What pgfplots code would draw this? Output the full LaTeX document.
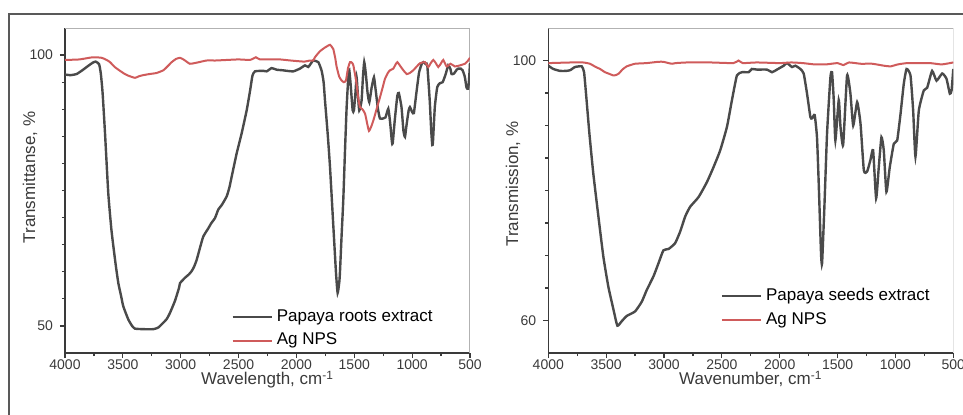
\documentclass[border=0pt]{standalone}
\usepackage{pgfplots}
\pgfplotsset{compat=1.18}
\usepackage{fontspec}
\setmainfont{Liberation Sans}
\definecolor{spblack}{HTML}{4A4A4A}
\definecolor{spred}{HTML}{CF5B5B}
\definecolor{axgray}{HTML}{3A3A3A}

\pgfplotsset{ftir/.style={
 scale only axis, width=202.5pt, height=162.5pt,
 xmin=500, xmax=4000, x dir=reverse,
 axis x line*=bottom, axis y line*=left,
 tick align=outside,
 xtick={500,1000,...,4000}, minor x tick num=1,
 major tick length=2.5pt, minor tick length=1.6pt,
 every tick/.style={axgray, line width=0.6pt},
 axis line style={axgray, line width=0.7pt, -},
 ticklabel style={font=\fontsize{7}{8}\selectfont, text=axgray},
 xticklabel style={yshift=2.5pt},
 /pgf/number format/assume math mode=true,
 /pgf/number format/1000 sep={},
 label style={font=\fontsize{8.5}{10}\selectfont, text=axgray},
 xlabel style={at={(axis description cs:0.5,-0.098)}, anchor=base},
 legend style={draw=none, fill=none, font=\fontsize{8.5}{9}\selectfont, text=black, cells={anchor=west}, row sep=0.5pt, anchor=north west},
 legend image code/.code={\draw[##1] (0pt,0pt) -- (19.5pt,0pt);},
}}

\pgfplotstableread{
w v
4000 96.4
3950 96.3
3900 96.5
3850 97.2
3800 98.0
3760 98.6
3735 98.8
3705 98.3
3690 96.5
3675 93.0
3654 85.5
3626 74.5
3600 68.0
3582 64.7
3560 61.0
3539 57.9
3515 55.5
3496 53.6
3453 51.2
3420 50.0
3395 49.5
3323 49.4
3237 49.4
3194 49.7
3150 50.6
3120 51.3
3093 52.4
3050 54.6
3015 57.0
3006 57.9
2985 58.4
2963 58.9
2930 59.5
2906 60.1
2885 60.9
2862 62.2
2835 64.3
2805 66.5
2762 68.0
2735 69.0
2704 69.9
2675 71.5
2646 72.3
2603 73.9
2580 75.5
2560 77.5
2517 81.8
2474 85.5
2430 89.8
2400 93.5
2380 96.2
2358 97.0
2286 97.1
2257 97.0
2214 97.6
2171 97.3
2120 97.2
2085 97.1
2027 97.0
1970 97.5
1926 98.1
1898 97.8
1870 98.6
1854 99.0
1811 98.7
1782 97.1
1765 95.0
1753 91.6
1730 85.5
1710 79.4
1681 68.4
1658 59.8
1644 56.1
1630 58.0
1624 59.8
1610 66.5
1595 73.3
1580 82.5
1566 90.4
1550 96.5
1543 97.2
1532 94.7
1514 89.8
1503 89.8
1490 93.0
1480 95.9
1470 93.0
1457 89.8
1437 91.6
1425 96.0
1414 98.7
1400 96.5
1385 93.0
1370 91.3
1350 94.0
1330 95.9
1315 93.5
1295 90.0
1278 88.3
1250 88.3
1230 88.5
1206 90.1
1190 87.5
1175 84.0
1168 83.7
1150 88.0
1128 92.5
1115 93.0
1092 90.4
1075 86.0
1062 84.9
1049 87.0
1030 89.8
1019 90.4
1000 89.5
985 89.3
964 92.9
940 96.8
915 98.5
903 98.7
880 98.3
869 98.1
848 91.6
835 86.0
826 83.4
820 84.0
804 90.4
783 94.1
760 94.8
736 95.0
710 96.5
688 98.1
670 97.5
659 96.5
638 96.6
615 97.3
601 97.5
580 97.5
564 97.2
545 96.0
530 94.0
516 93.8
508 95.5
500 98.5
}\roots

\pgfplotstableread{
w v
4000 99.1
3875 99.2
3760 99.6
3683 99.5
3640 99.1
3611 98.7
3570 97.8
3525 97.1
3490 96.6
3453 96.2
3395 95.8
3360 96.1
3323 96.3
3270 96.5
3208 96.7
3150 97.2
3110 98.0
3078 98.7
3040 99.3
3006 99.5
2985 99.3
2963 99.0
2920 98.4
2862 98.6
2776 99.0
2700 99.0
2603 99.1
2500 99.2
2402 99.1
2370 99.4
2350 99.6
2315 99.2
2200 99.2
2142 99.2
2050 99.0
1998 98.9
1930 98.8
1883 99.0
1854 99.0
1840 99.6
1797 100.7
1753 101.4
1710 101.9
1690 101.4
1681 101.1
1665 99.5
1652 97.8
1630 96.0
1609 95.3
1590 95.0
1572 95.3
1555 97.5
1537 98.7
1520 98.6
1508 98.1
1490 96.0
1479 94.4
1465 92.0
1451 90.4
1430 90.0
1407 89.2
1390 87.5
1373 86.0
1350 87.0
1330 88.3
1305 90.2
1278 92.2
1255 94.0
1235 95.6
1210 96.7
1191 97.2
1163 97.5
1145 98.2
1128 98.7
1100 97.9
1076 97.2
1047 96.5
1020 96.7
990 97.2
960 97.9
932 98.5
889 98.7
860 97.8
840 98.5
817 99.1
795 98.5
774 97.8
750 98.5
731 99.1
702 97.9
668 98.4
630 97.9
587 98.1
544 98.4
520 98.9
500 99.5
}\agleft

\pgfplotstableread{
w v
4000 99.2
3957 98.7
3899 98.4
3850 98.4
3812 98.5
3769 99.0
3711 99.1
3691 98.2
3674 94.9
3645 88.8
3611 82.6
3567 76.0
3524 69.8
3481 65.2
3437 61.7
3403 59.2
3365 59.9
3322 60.7
3250 61.4
3192 62.9
3149 64.7
3091 66.8
3048 68.8
3005 70.8
2961 71.0
2904 71.9
2860 73.7
2817 76.0
2774 77.5
2701 79.0
2629 81.3
2572 83.6
2514 86.2
2456 89.8
2413 93.9
2370 97.7
2326 98.2
2269 98.2
2240 98.7
2197 98.6
2110 98.6
2067 98.2
2024 98.6
1966 99.2
1937 99.6
1894 99.0
1865 99.2
1822 98.7
1793 98.0
1764 94.9
1735 91.3
1721 91.1
1698 91.6
1678 88.2
1663 81.1
1643 70.3
1634 68.8
1614 77.5
1591 88.8
1562 97.4
1548 98.2
1533 93.9
1519 87.7
1490 93.9
1475 89.8
1452 87.0
1418 97.7
1389 94.9
1365 90.0
1331 93.6
1302 90.3
1273 83.1
1245 82.9
1216 84.7
1193 86.2
1167 78.8
1144 83.6
1121 88.2
1101 86.2
1078 79.8
1049 83.6
1014 87.2
985 87.7
956 91.8
928 96.4
904 98.7
870 97.7
847 92.3
827 85.2
798 92.3
755 95.4
726 95.8
683 98.4
645 96.9
596 98.0
559 97.2
530 94.9
515 95.4
500 98.7
}\seeds

\pgfplotstableread{
w v
4000 99.6
3800 99.7
3700 99.7
3640 99.5
3590 99.0
3553 98.7
3510 98.2
3481 98.0
3437 97.7
3410 97.8
3390 98.0
3360 98.6
3322 99.1
3250 99.5
3150 99.6
3050 99.8
3005 99.8
2960 99.6
2930 99.5
2900 99.6
2800 99.7
2600 99.7
2400 99.6
2356 100.0
2320 99.6
2200 99.7
2000 99.6
1900 99.7
1800 99.6
1700 99.4
1600 99.4
1500 99.6
1450 99.3
1400 99.7
1300 99.5
1200 99.5
1100 99.2
1041 99.1
980 99.4
900 99.6
800 99.6
700 99.6
600 99.4
500 99.7
}\agright

\begin{document}
\begin{tikzpicture}
\useasboundingbox (0pt,0pt) rectangle (481.5pt,207pt);
\draw[black!65, line width=0.6pt] (4.5pt,-3pt) -- (4.5pt,200pt) -- (485pt,200pt);

\begin{axis}[ftir, at={(32.5pt,30.5pt)}, anchor=south west,
  ymin=45, ymax=105, ytick={50,100}, minor y tick num=9,
  xlabel={Wavelength, cm\textsuperscript{-1}},
  ylabel={Transmittanse, \%},
  ylabel style={at={(axis description cs:-0.086,0.54)}, anchor=center},
  legend style={at={(axis description cs:0.395,0.16)}},
]
\draw[black!30, line width=0.6pt] (axis description cs:0,1) -- (axis description cs:1,1) -- (axis description cs:1,0);
\addplot[spblack, line width=1.2pt, smooth, tension=0.3] table[x=w,y=v] {\roots};
\addplot[spred, line width=1pt, smooth, tension=0.3] table[x=w,y=v] {\agleft};
\legend{Papaya roots extract, Ag NPS}
\end{axis}

\begin{axis}[ftir, at={(274.15pt,30.5pt)}, anchor=south west,
  ymin=55, ymax=105, ytick={60,100}, minor y tick num=7,
  xlabel={Wavenumber, cm\textsuperscript{-1}},
  ylabel={Transmission, \%},
  ylabel style={at={(axis description cs:-0.087,0.52)}, anchor=center},
  legend style={at={(axis description cs:0.41,0.225)}},
]
\draw[black!30, line width=0.6pt] (axis description cs:0,1) -- (axis description cs:1,1) -- (axis description cs:1,0);
\addplot[spblack, line width=1.2pt, smooth, tension=0.3] table[x=w,y=v] {\seeds};
\addplot[spred, line width=1pt, smooth, tension=0.3] table[x=w,y=v] {\agright};
\legend{Papaya seeds extract, Ag NPS}
\end{axis}
\end{tikzpicture}
\end{document}
